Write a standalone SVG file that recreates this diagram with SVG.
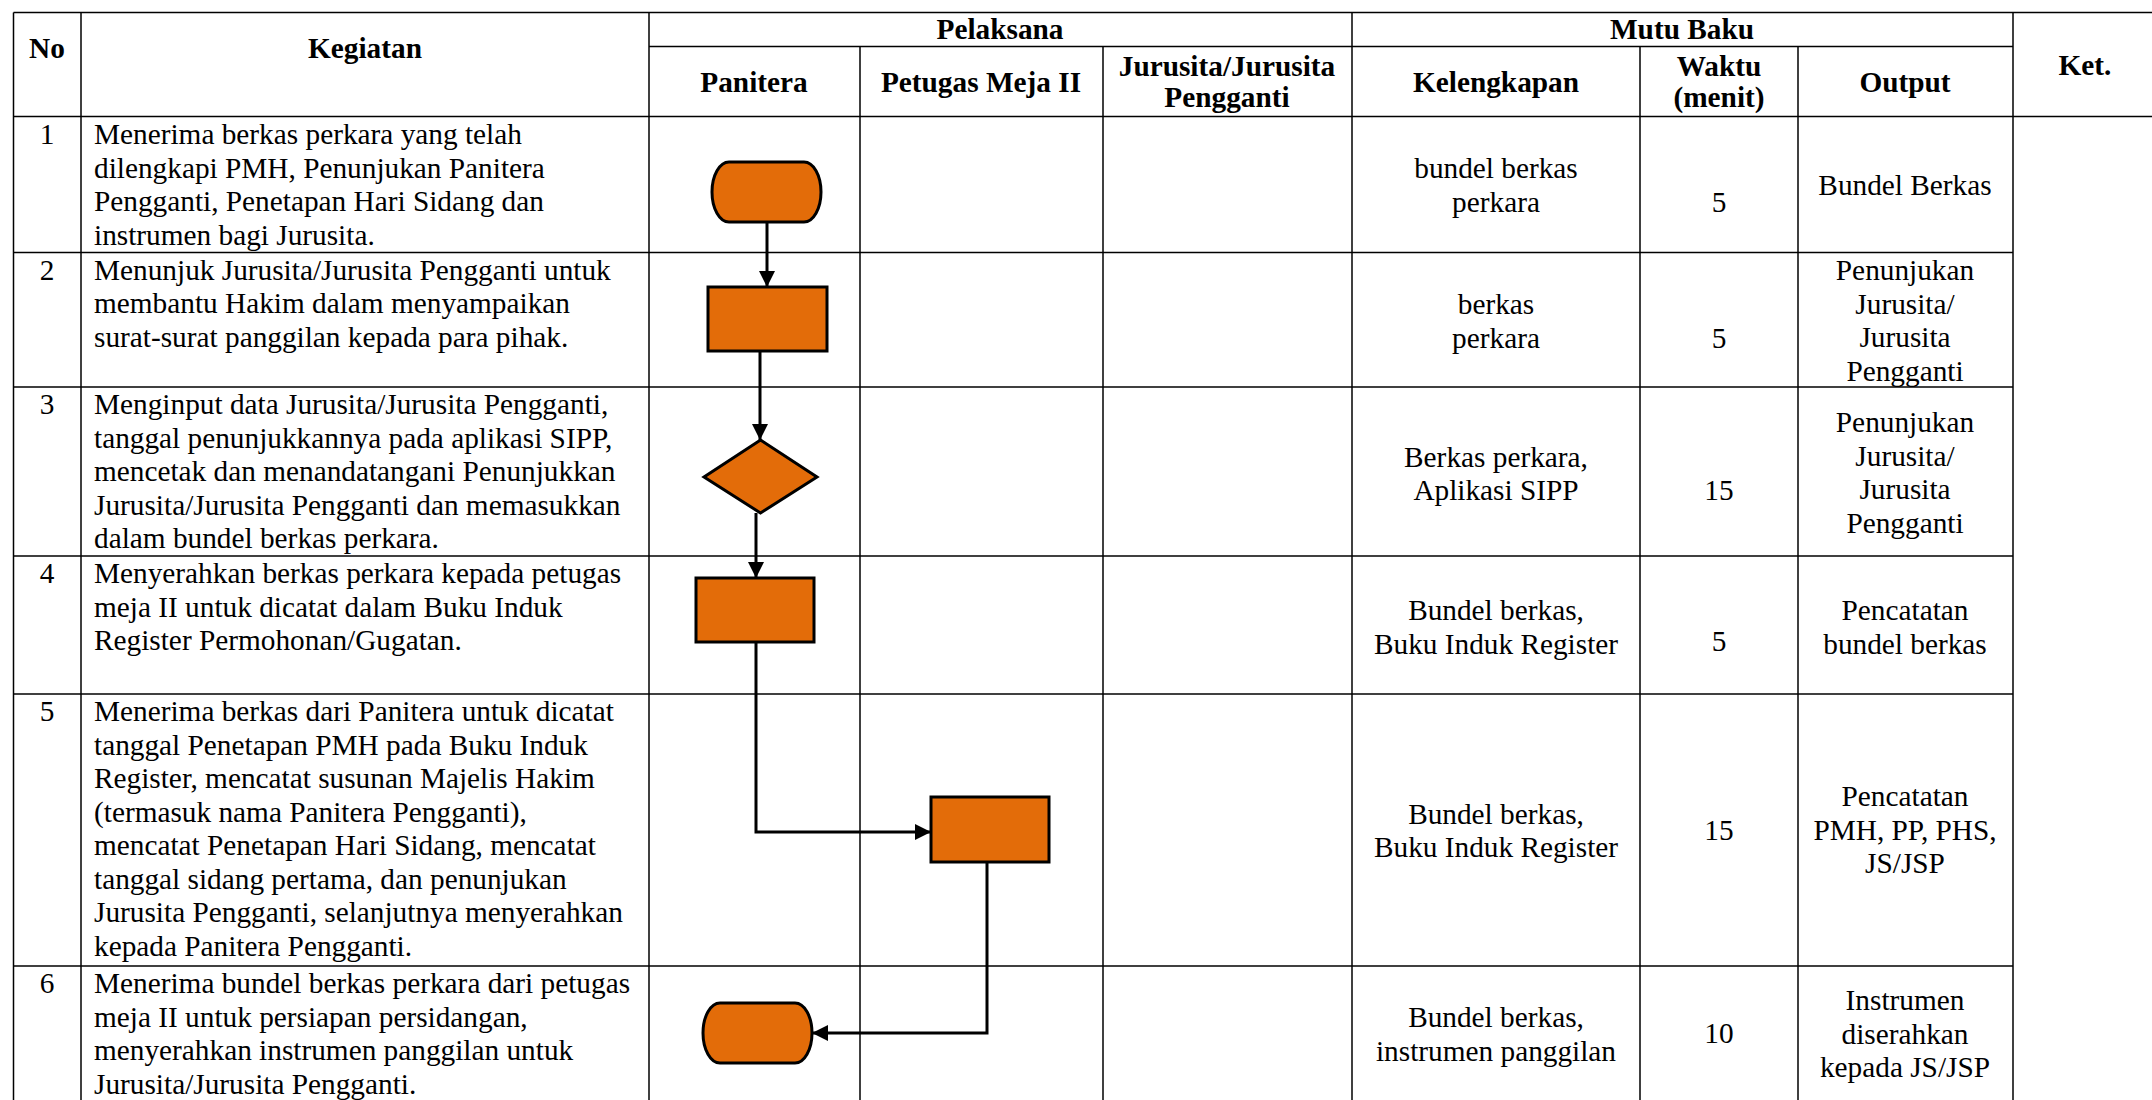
<svg xmlns="http://www.w3.org/2000/svg" width="2152" height="1100" viewBox="0 0 2152 1100">
<style>
.grid{stroke:#000;stroke-width:1.5;fill:none}
.t{font-family:"Liberation Serif","Times New Roman",serif;font-size:29.3px;fill:#000}
.b{font-weight:bold}
.c{text-anchor:middle}
.shape{fill:#E36C09;stroke:#000;stroke-width:3}
.conn{fill:none;stroke:#000;stroke-width:3}
</style>
<defs>
<marker id="arr" markerUnits="userSpaceOnUse" markerWidth="16" markerHeight="16" refX="16" refY="8" orient="auto">
<path d="M0,0 L16,8 L0,16 z" fill="#000"/>
</marker>
</defs>
<rect width="2152" height="1100" fill="#fff"/>
<g id="table-grid" class="grid">
<line x1="13.5" y1="12.5" x2="2152" y2="12.5"/>
<line x1="649" y1="46.5" x2="2013" y2="46.5"/>
<line x1="13.5" y1="116.5" x2="2152" y2="116.5"/>
<line x1="13.5" y1="252.5" x2="2013" y2="252.5"/>
<line x1="13.5" y1="387" x2="2013" y2="387"/>
<line x1="13.5" y1="556" x2="2013" y2="556"/>
<line x1="13.5" y1="694" x2="2013" y2="694"/>
<line x1="13.5" y1="966" x2="2013" y2="966"/>
<line x1="13.5" y1="12.5" x2="13.5" y2="1100"/>
<line x1="81" y1="12.5" x2="81" y2="1100"/>
<line x1="649" y1="12.5" x2="649" y2="1100"/>
<line x1="860" y1="46.5" x2="860" y2="1100"/>
<line x1="1103" y1="46.5" x2="1103" y2="1100"/>
<line x1="1352" y1="12.5" x2="1352" y2="1100"/>
<line x1="1640" y1="46.5" x2="1640" y2="1100"/>
<line x1="1798" y1="46.5" x2="1798" y2="1100"/>
<line x1="2013" y1="12.5" x2="2013" y2="1100"/>
</g>
<g id="header" class="t b c">
<text x="47" y="58">No</text>
<text x="365" y="58">Kegiatan</text>
<text x="1000" y="39">Pelaksana</text>
<text x="1682" y="39">Mutu Baku</text>
<text x="2085" y="75">Ket.</text>
<text x="754" y="91.5">Panitera</text>
<text x="981" y="91.5">Petugas Meja II</text>
<text x="1227" y="75.5">Jurusita/Jurusita</text>
<text x="1227" y="106.5">Pengganti</text>
<text x="1496" y="91.5">Kelengkapan</text>
<text x="1719" y="75.5">Waktu</text>
<text x="1719" y="106.5">(menit)</text>
<text x="1905" y="91.5">Output</text>
</g>
<g id="row1" class="t">
<text x="47" y="144" class="c">1</text>
<text x="94" y="144">Menerima berkas perkara yang telah</text>
<text x="94" y="177.5">dilengkapi PMH, Penunjukan Panitera</text>
<text x="94" y="211">Pengganti, Penetapan Hari Sidang dan</text>
<text x="94" y="244.5">instrumen bagi Jurusita.</text>
<text x="1496" y="178" class="c">bundel berkas</text>
<text x="1496" y="211.5" class="c">perkara</text>
<text x="1719" y="211.5" class="c">5</text>
<text x="1905" y="195" class="c">Bundel Berkas</text>
</g>
<g id="row2" class="t">
<text x="47" y="279.5" class="c">2</text>
<text x="94" y="279.5">Menunjuk Jurusita/Jurusita Pengganti untuk</text>
<text x="94" y="313">membantu Hakim dalam menyampaikan</text>
<text x="94" y="346.5">surat-surat panggilan kepada para pihak.</text>
<text x="1496" y="314" class="c">berkas</text>
<text x="1496" y="347.5" class="c">perkara</text>
<text x="1719" y="347.5" class="c">5</text>
<text x="1905" y="280" class="c">Penunjukan</text>
<text x="1905" y="313.5" class="c">Jurusita/</text>
<text x="1905" y="347" class="c">Jurusita</text>
<text x="1905" y="380.5" class="c">Pengganti</text>
</g>
<g id="row3" class="t">
<text x="47" y="414" class="c">3</text>
<text x="94" y="414">Menginput data Jurusita/Jurusita Pengganti,</text>
<text x="94" y="447.5">tanggal penunjukkannya pada aplikasi SIPP,</text>
<text x="94" y="481">mencetak dan menandatangani Penunjukkan</text>
<text x="94" y="514.5">Jurusita/Jurusita Pengganti dan memasukkan</text>
<text x="94" y="548">dalam bundel berkas perkara.</text>
<text x="1496" y="466.5" class="c">Berkas perkara,</text>
<text x="1496" y="500" class="c">Aplikasi SIPP</text>
<text x="1719" y="500" class="c">15</text>
<text x="1905" y="432" class="c">Penunjukan</text>
<text x="1905" y="465.5" class="c">Jurusita/</text>
<text x="1905" y="499" class="c">Jurusita</text>
<text x="1905" y="532.5" class="c">Pengganti</text>
</g>
<g id="row4" class="t">
<text x="47" y="583" class="c">4</text>
<text x="94" y="583">Menyerahkan berkas perkara kepada petugas</text>
<text x="94" y="616.5">meja II untuk dicatat dalam Buku Induk</text>
<text x="94" y="650">Register Permohonan/Gugatan.</text>
<text x="1496" y="620" class="c">Bundel berkas,</text>
<text x="1496" y="653.5" class="c">Buku Induk Register</text>
<text x="1719" y="651" class="c">5</text>
<text x="1905" y="620" class="c">Pencatatan</text>
<text x="1905" y="653.5" class="c">bundel berkas</text>
</g>
<g id="row5" class="t">
<text x="47" y="721" class="c">5</text>
<text x="94" y="721">Menerima berkas dari Panitera untuk dicatat</text>
<text x="94" y="754.5">tanggal Penetapan PMH pada Buku Induk</text>
<text x="94" y="788">Register, mencatat susunan Majelis Hakim</text>
<text x="94" y="821.5">(termasuk nama Panitera Pengganti),</text>
<text x="94" y="855">mencatat Penetapan Hari Sidang, mencatat</text>
<text x="94" y="888.5">tanggal sidang pertama, dan penunjukan</text>
<text x="94" y="922">Jurusita Pengganti, selanjutnya menyerahkan</text>
<text x="94" y="955.5">kepada Panitera Pengganti.</text>
<text x="1496" y="823.5" class="c">Bundel berkas,</text>
<text x="1496" y="857" class="c">Buku Induk Register</text>
<text x="1719" y="840" class="c">15</text>
<text x="1905" y="806" class="c">Pencatatan</text>
<text x="1905" y="839.5" class="c">PMH, PP, PHS,</text>
<text x="1905" y="873" class="c">JS/JSP</text>
</g>
<g id="row6" class="t">
<text x="47" y="993" class="c">6</text>
<text x="94" y="993">Menerima bundel berkas perkara dari petugas</text>
<text x="94" y="1026.5">meja II untuk persiapan persidangan,</text>
<text x="94" y="1060">menyerahkan instrumen panggilan untuk</text>
<text x="94" y="1093.5">Jurusita/Jurusita Pengganti.</text>
<text x="1496" y="1027" class="c">Bundel berkas,</text>
<text x="1496" y="1060.5" class="c">instrumen panggilan</text>
<text x="1719" y="1043" class="c">10</text>
<text x="1905" y="1010" class="c">Instrumen</text>
<text x="1905" y="1043.5" class="c">diserahkan</text>
<text x="1905" y="1077" class="c">kepada JS/JSP</text>
</g>
<g id="node-start" class="shape"><rect x="712" y="162" width="109" height="60" rx="17" ry="30"/></g>
<g id="node-tunjuk" class="shape"><rect x="708" y="287" width="119" height="64"/></g>
<g id="node-input" class="shape"><polygon points="760.5,440 817,477 760.5,513 704,477"/></g>
<g id="node-serah" class="shape"><rect x="696" y="578" width="118" height="64"/></g>
<g id="node-catat" class="shape"><rect x="931" y="797" width="118" height="65"/></g>
<g id="node-end" class="shape"><rect x="703" y="1003" width="109" height="60" rx="17" ry="30"/></g>
<g id="connectors" class="conn">
<path d="M767,222 L767,287" marker-end="url(#arr)"/>
<path d="M760,351 L760,440" marker-end="url(#arr)"/>
<path d="M756,513 L756,578" marker-end="url(#arr)"/>
<path d="M756,642 L756,832 L931,832" marker-end="url(#arr)"/>
<path d="M987,862 L987,1033 L812,1033" marker-end="url(#arr)"/>
</g>
</svg>
